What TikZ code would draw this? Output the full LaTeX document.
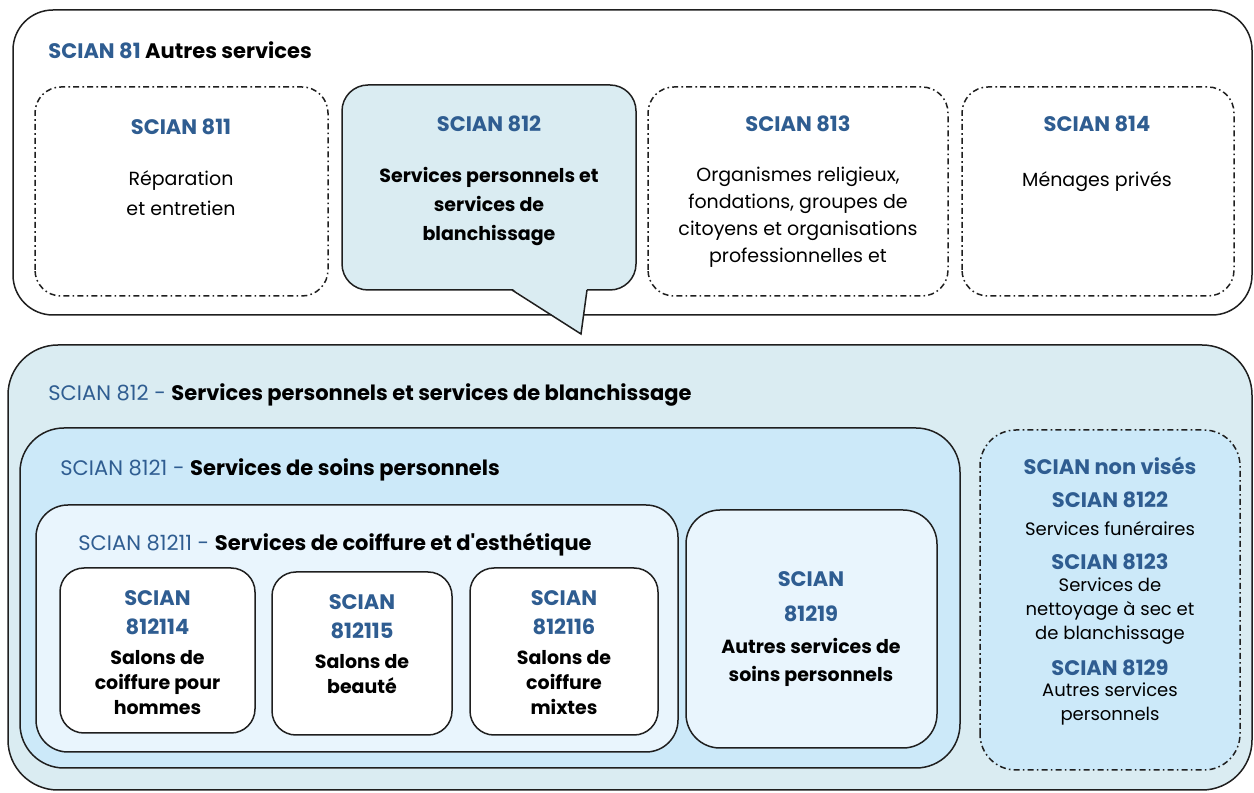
\documentclass[tikz,border=0pt]{standalone}
\usepackage{fontspec}
\setmainfont{Poppins}
\usetikzlibrary{positioning,calc}

\definecolor{scianblue}{HTML}{2F5D91}
\definecolor{greyblue}{HTML}{DAECF2}
\definecolor{skyblue}{HTML}{CCE9F9}
\definecolor{paleblue}{HTML}{E9F5FD}
\definecolor{edge}{HTML}{1F1F1F}

\tikzset{
  frame/.style={draw=edge, line width=0.75pt, rounded corners=#1},
  frame/.default=13pt,
  dashframe/.style={frame=#1, dash pattern=on 3pt off 1.6pt on 0.8pt off 1.6pt},
  dashframe/.default=13pt,
  head/.style={inner sep=0pt, align=center, text=scianblue, font=\bfseries\fontsize{10.5}{14.5}\selectfont},
  txt/.style={inner sep=0pt, align=center, font=\fontsize{9.5}{14}\selectfont},
  btxt/.style={inner sep=0pt, align=center, font=\bfseries\fontsize{9.5}{12.5}\selectfont},
  title/.style={inner sep=0pt, anchor=west, text=scianblue, font=\fontsize{10.5}{13}\selectfont}
}

\begin{document}
\begin{tikzpicture}[x=0.5pt,y=0.5pt]
\useasboundingbox (0,0) rectangle (1254,793);

% SCIAN 81
\draw[frame=20pt, fill=white] (13,478) rectangle (1252,783);
\node[title, font=\bfseries\fontsize{10.5}{13}\selectfont] (t81) at (48,743) {SCIAN 81 \textcolor{black}{Autres services}};

\draw[dashframe] (35,497) rectangle (328,706);
\node[head] (h811) at (181,666) {SCIAN 811};
\node[txt, font=\fontsize{9.5}{15}\selectfont] (d811) at (181,600) {Réparation\\et entretien};

\draw[dashframe] (648,497) rectangle (948,706);
\node[head] (h813) at (798,669) {SCIAN 813};
\node[txt, font=\fontsize{9.5}{13.5}\selectfont] (d813) at (798,576) {Organismes religieux,\\fondations, groupes de\\citoyens et organisations\\professionnelles et};

\draw[dashframe] (962,497) rectangle (1234,706);
\node[head] (h814) at (1097,669) {SCIAN 814};
\node[txt] (d814) at (1097,611) {Ménages privés};

% bulle 812
\draw[frame=13pt, fill=greyblue] (342,503) rectangle (636,708);
\fill[greyblue] (512,504.5) -- (581,459) -- (587,504.5) -- cycle;
\draw[edge, line width=0.75pt] (512,503) -- (581,459) -- (587,503);
\node[head] (h812) at (489,669) {SCIAN 812};
\node[btxt, font=\bfseries\fontsize{9.5}{14.5}\selectfont] (d812) at (489,586) {Services personnels et\\services de\\blanchissage};

% SCIAN 812 detail
\draw[frame=25pt, fill=greyblue] (8,3) rectangle (1252,448);
\node[title] (t812) at (48,398) {SCIAN 812 - \textcolor{black}{\bfseries Services personnels et services de blanchissage}};

\draw[frame=22pt, fill=skyblue] (20,25) rectangle (960,365);
\node[title] (t8121) at (60,323) {SCIAN 8121 - \textcolor{black}{\bfseries Services de soins personnels}};

\draw[frame=16pt, fill=paleblue] (36,41) rectangle (678,288);
\node[title] (t81211) at (78,248) {SCIAN 81211 - \textcolor{black}{\bfseries Services de coiffure et d\textquotesingle esthétique}};

\foreach \xa/\xb/\ya/\yb/\code/\yh/\yd/\desc in {
  60/255/60/225/812114/180.5/110.3/{Salons de\\coiffure pour\\hommes},
  272/452/58/221/812115/176.5/119/{Salons de\\beauté},
  470/658/58/225/812116/180.5/110.3/{Salons de\\coiffure\\mixtes}} {
  \draw[frame=12pt, fill=white] (\xa,\ya) rectangle (\xb,\yb);
  \node[head] (h\code) at ({(\xa+\xb)/2},\yh) {SCIAN\\\code};
  \node[btxt] (d\code) at ({(\xa+\xb)/2},\yd) {\desc};
}

\draw[frame=17pt, fill=paleblue] (686,45) rectangle (937,283);
\node[head, font=\bfseries\fontsize{10.5}{17.5}\selectfont] (h81219) at (811,196.5) {SCIAN\\81219};
\node[btxt, font=\bfseries\fontsize{9.5}{14}\selectfont] (d81219) at (811,131) {Autres services de\\soins personnels};

% non vises
\draw[dashframe=18pt, fill=skyblue] (980,23) rectangle (1240,363);
\node[head] (hnv) at (1110,327) {SCIAN non visés};
\node[head] (h8122) at (1110,293) {SCIAN 8122};
\node[txt, font=\fontsize{9}{12.2}\selectfont] (d8122) at (1110,264) {Services funéraires};
\node[head] (h8123) at (1110,231) {SCIAN 8123};
\node[txt, font=\fontsize{9}{12.2}\selectfont] (d8123) at (1110,182) {Services de\\nettoyage à sec et\\de blanchissage};
\node[head] (h8129) at (1110,125) {SCIAN 8129};
\node[txt, font=\fontsize{9}{12.2}\selectfont] (d8129) at (1110,89) {Autres services\\personnels};
\end{tikzpicture}
\end{document}
